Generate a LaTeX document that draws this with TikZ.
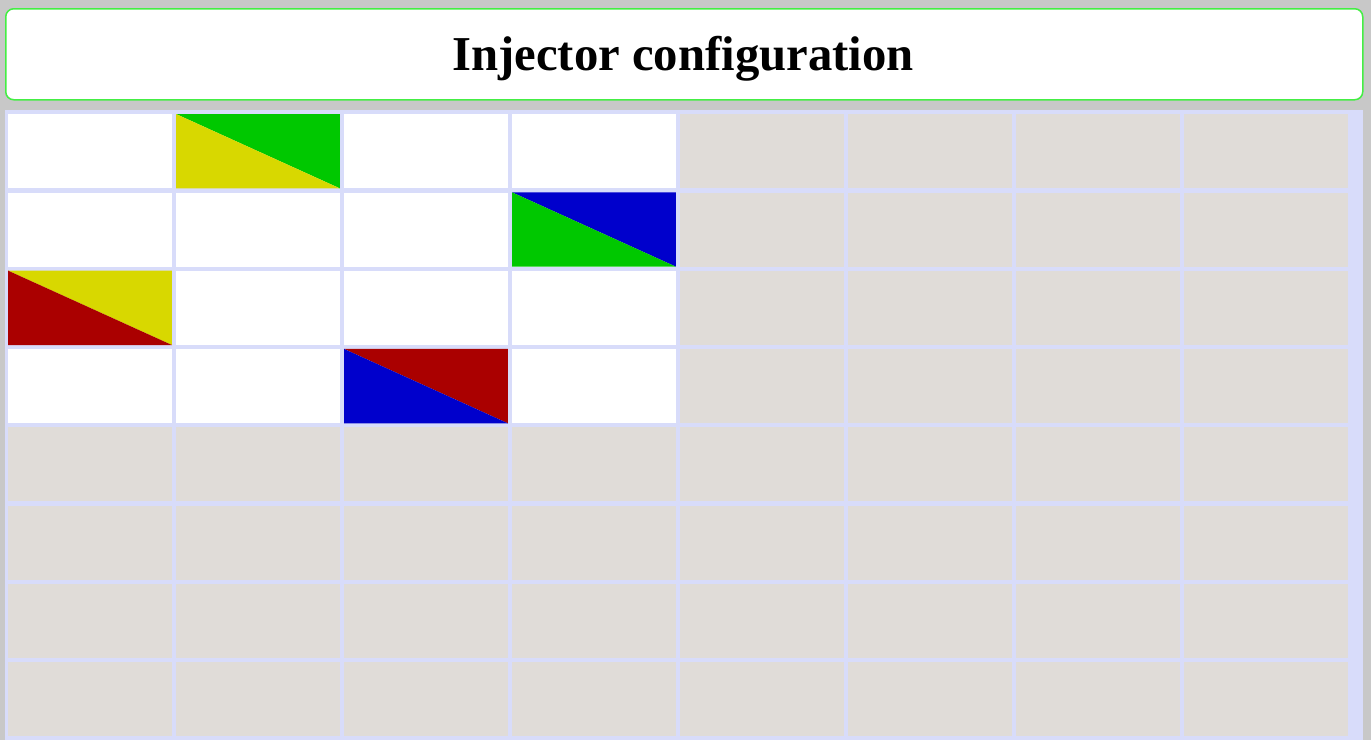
\documentclass[tikz,border=0pt]{standalone}
\usepackage{fontspec}
\setmainfont{Liberation Serif}
\definecolor{bggray}{HTML}{C8C8C8}
\definecolor{panelblue}{HTML}{D8DCFA}
\definecolor{cellgray}{HTML}{E0DCD8}
\definecolor{tgreen}{HTML}{44EE44}
\definecolor{cgreen}{HTML}{00C800}
\definecolor{cyellow}{HTML}{D8D800}
\definecolor{cblue}{HTML}{0000CC}
\definecolor{cred}{HTML}{AA0000}
\tikzset{
  cell/.style={draw=none, inner sep=0pt, minimum width=163.5, minimum height=74, anchor=north west, fill=cellgray},
  whitecell/.style={cell, fill=white},
  titlebox/.style={draw=tgreen, line width=1.5, rounded corners=8, fill=white}
}
\begin{document}
\begin{tikzpicture}[x=1pt,y=-1pt]
\useasboundingbox (0,0) rectangle (1371,740);
\fill[bggray] (0,0) rectangle (1371,740);
\node[titlebox, minimum width=1357, minimum height=91, anchor=north west, inner sep=0pt] (title) at (5,8) {};
\node[font=\fontsize{48.7}{56}\selectfont\bfseries, anchor=base, inner sep=0pt] (titletext) at (683,70) {Injector configuration};
\node[fill=panelblue, inner sep=0pt, minimum width=1358, minimum height=630, anchor=north west] (panel) at (5,110) {};
\foreach \r in {0,...,7}{
  \foreach \c in {0,...,7}{
    \pgfmathsetmacro{\xx}{8+\c*168}
    \pgfmathsetmacro{\yy}{114+\r*78.3}
    \ifnum\r<4 \ifnum\c<4
      \node[whitecell] (c-\r-\c) at (\xx,\yy) {};
    \else
      \node[cell] (c-\r-\c) at (\xx,\yy) {};
    \fi\else
      \node[cell] (c-\r-\c) at (\xx,\yy) {};
    \fi
  }
}
% split cells: upper-right colour, lower-left colour
\foreach \r/\c/\up/\lo in {0/1/cgreen/cyellow, 1/3/cblue/cgreen, 2/0/cyellow/cred, 3/2/cred/cblue}{
  \fill[\up] (c-\r-\c.north west) -- (c-\r-\c.north east) -- (c-\r-\c.south east) -- cycle;
  \fill[\lo] (c-\r-\c.north west) -- (c-\r-\c.south west) -- (c-\r-\c.south east) -- cycle;
}
\end{tikzpicture}
\end{document}
